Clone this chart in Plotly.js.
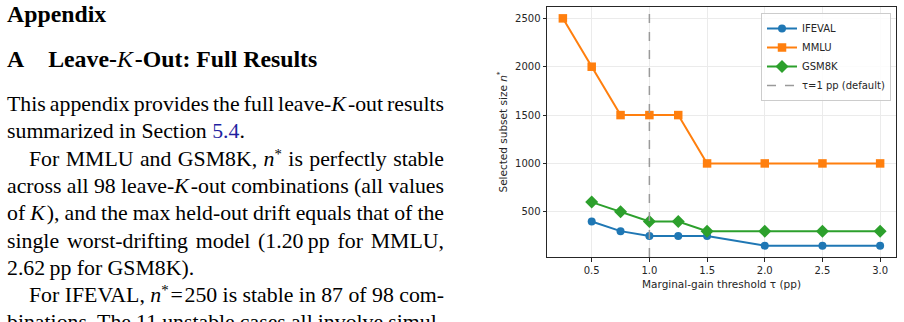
<!DOCTYPE html>
<html>
<head>
<meta charset="utf-8">
<script src="https://cdn.plot.ly/plotly-3.0.1.min.js"></script>
<style>
  html, body { margin: 0; padding: 0; background: #fff; }
  body { width: 904px; height: 322px; overflow: hidden; position: relative; }
  #doc { position: absolute; left: 0; top: 0; width: 470px; height: 322px; font-family: "Liberation Serif", "Times New Roman", serif; color: #000; z-index: 2; }
  .h { position: absolute; left: 7px; font-weight: bold; font-size: 23.8px; line-height: 1; white-space: nowrap; }
  .ln { position: absolute; left: 7px; width: 437px; font-size: 21.8px; line-height: 27.3px; height: 27.3px; white-space: nowrap; }
  .j { text-align: justify; text-align-last: justify; white-space: normal; word-spacing: -5px; }
  .ind { left: 29px; width: 415px; }
  .m { font-style: italic; font-weight: normal; }
  .mk { font-style: italic; margin-right: 2px; }
  .st { font-size: 0.68em; vertical-align: 0.5em; line-height: 0; }
  .lnk { color: #1f1f9f; }
  #chart { position: absolute; left: 480px; top: 0; width: 424px; height: 322px; z-index: 1; }
</style>
</head>
<body>
<div id="doc">
  <div class="h" style="top:3px;">Appendix</div>
  <div class="h" style="top:48px;">A<span style="display:inline-block;width:24px;"></span>Leave-<span class="m mk">K</span>-Out: Full Results</div>
  <div class="ln j" style="top:91px;">This appendix provides the full leave-<span class="mk">K</span>-out results</div>
  <div class="ln" style="top:118.3px;">summarized in Section <span class="lnk">5.4</span>.</div>
  <div class="ln j ind" style="top:145.6px;">For MMLU and GSM8K, <i>n</i><span class="st">*</span> is perfectly stable</div>
  <div class="ln j" style="top:172.9px;">across all 98 leave-<span class="mk">K</span>-out combinations (all values</div>
  <div class="ln j" style="top:200.2px;">of <span class="mk">K</span>), and the max held-out drift equals that of the</div>
  <div class="ln j" style="top:227.5px;">single worst-drifting model (1.20&thinsp;pp for MMLU,</div>
  <div class="ln" style="top:254.8px;">2.62&thinsp;pp for GSM8K).</div>
  <div class="ln j ind" style="top:282.1px;">For IFEVAL, <i>n</i><span class="st">*</span>&#8202;=&#8202;250 is stable in 87 of 98 com-</div>
  <div class="ln j" style="top:309.4px;">binations. The 11 unstable cases all involve simul-</div>
</div>
<div id="chart"></div>
<script>
// ---- data ----
const tauIFEVAL = [0.5, 0.75, 1.0, 1.25, 1.5, 2.0, 2.5, 3.0];
const nIFEVAL   = [400, 300, 250, 250, 250, 150, 150, 150];
const tauMMLU   = [0.25, 0.5, 0.75, 1.0, 1.25, 1.5, 2.0, 2.5, 3.0];
const nMMLU     = [2500, 2000, 1500, 1500, 1500, 1000, 1000, 1000, 1000];
const tauGSM8K  = [0.5, 0.75, 1.0, 1.25, 1.5, 2.0, 2.5, 3.0];
const nGSM8K    = [600, 500, 400, 400, 300, 300, 300, 300];
const defaultTau = [1.0];
const xTickVals = [0.5, 1.0, 1.5, 2.0, 2.5, 3.0];
const xTickText = ['0.5', '1.0', '1.5', '2.0', '2.5', '3.0'];
const yTickVals = [500, 1000, 1500, 2000, 2500];
const yTickText = ['500', '1000', '1500', '2000', '2500'];
const seriesNames = ['IFEVAL', 'MMLU', 'GSM8K'];
const defaultLabel = 'τ=1 pp (default)';

// matplotlib-like autoscale (5% margins)
function padRange(arrs) {
  const all = [].concat(...arrs);
  const lo = Math.min(...all), hi = Math.max(...all), p = (hi - lo) * 0.05;
  return [lo - p, hi + p];
}
const xRange = padRange([tauIFEVAL, tauMMLU, tauGSM8K]);
const yRange = padRange([nIFEVAL, nMMLU, nGSM8K]);

const font = { family: 'DejaVu Sans, sans-serif', size: 10, color: '#262626' };
const traces = [
  { x: tauIFEVAL, y: nIFEVAL, name: seriesNames[0], mode: 'lines+markers',
    line: { color: '#1f77b4', width: 2 }, marker: { symbol: 'circle', size: 8, color: '#1f77b4' } },
  { x: tauMMLU, y: nMMLU, name: seriesNames[1], mode: 'lines+markers',
    line: { color: '#ff7f0e', width: 2 }, marker: { symbol: 'square', size: 8.5, color: '#ff7f0e' } },
  { x: tauGSM8K, y: nGSM8K, name: seriesNames[2], mode: 'lines+markers',
    line: { color: '#2ca02c', width: 2 }, marker: { symbol: 'diamond', size: 10, color: '#2ca02c' } }
];
const axisCommon = {
  showline: true, mirror: true, linecolor: '#262626', linewidth: 1,
  ticks: 'outside', ticklen: 3.5, tickwidth: 1, tickcolor: '#262626',
  showgrid: true, gridcolor: '#ebebeb', gridwidth: 1, zeroline: false,
  tickfont: font
};
const layout = {
  width: 424, height: 322,
  margin: { l: 67, r: 8, t: 7, b: 65 },
  paper_bgcolor: 'rgba(0,0,0,0)', plot_bgcolor: '#fff',
  font: font,
  showlegend: true,
  xaxis: Object.assign({}, axisCommon, {
    range: xRange, tickmode: 'array', tickvals: xTickVals, ticktext: xTickText,
    title: { text: 'Marginal-gain threshold τ (pp)', font: Object.assign({}, font, { size: 10.5 }), standoff: 6 }
  }),
  yaxis: Object.assign({}, axisCommon, {
    range: yRange, tickmode: 'array', tickvals: yTickVals, ticktext: yTickText,
    title: { text: 'Selected subset size <i>n</i><sup>*</sup>', font: Object.assign({}, font, { size: 10.5 }), standoff: 5 }
  }),
  legend: {
    x: 0.9857, y: 0.976, xanchor: 'right', yanchor: 'top',
    bgcolor: 'rgba(255,255,255,0.85)', bordercolor: '#cccccc', borderwidth: 1,
    font: font
  },
  shapes: [{
    type: 'line', xref: 'x', yref: 'paper', x0: defaultTau[0], x1: defaultTau[0], y0: 0, y1: 1,
    line: { color: '#9a9a9a', width: 1.5, dash: 'dash' }, layer: 'above',
    showlegend: true, name: defaultLabel
  }]
};
Plotly.newPlot('chart', traces, layout, { displayModeBar: false, staticPlot: true });
</script>
</body>
</html>
